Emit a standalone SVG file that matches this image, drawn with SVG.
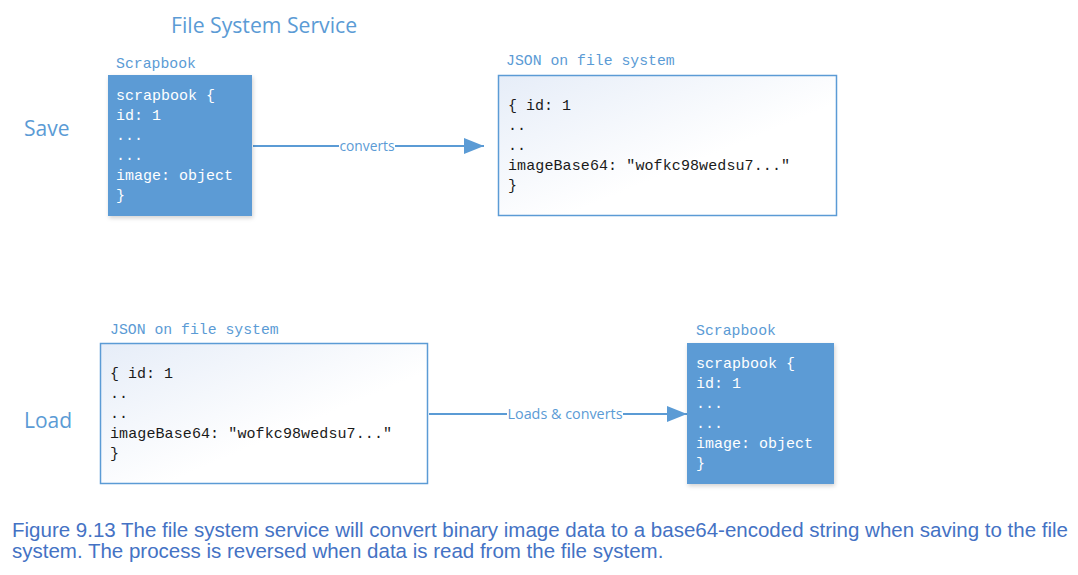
<svg xmlns="http://www.w3.org/2000/svg" width="1078" height="575" viewBox="0 0 1078 575">
<style>
.title{font-family:"Open Sans","Noto Sans",sans-serif;fill:#5b9bd5}
.lbl{font-family:"Liberation Mono","DejaVu Sans Mono",monospace;font-size:14.8px;fill:#5b9bd5}
.code{font-family:"Liberation Mono","DejaVu Sans Mono",monospace;font-size:15px}
.w{fill:#ffffff}
.d{fill:#1a1a1a}
.solid{fill:#5b9bd5}
.light{fill:url(#grad);stroke:#5b9bd5;stroke-width:1.5}
.conn{stroke:#5b9bd5;stroke-width:2;fill:none}
.clbl{font-family:"Open Sans","Noto Sans",sans-serif;font-size:14px;fill:#5b9bd5}
.cap{font-family:"Liberation Sans",Arial,sans-serif;font-size:20.5px;fill:#4472c4}
</style>
<defs>
<linearGradient id="grad" x1="0" y1="0" x2="1" y2="1">
<stop offset="0" stop-color="#e6edf8"/>
<stop offset="0.6" stop-color="#ffffff"/>
<stop offset="1" stop-color="#ffffff"/>
</linearGradient>
<filter id="sh" x="-10%" y="-10%" width="125%" height="125%">
<feDropShadow dx="1" dy="2" stdDeviation="2" flood-color="#000" flood-opacity="0.18"/>
</filter>
<marker id="arr" markerWidth="20" markerHeight="16" refX="20" refY="8" orient="auto" markerUnits="userSpaceOnUse">
<path d="M0,0 L20,8 L0,16 Z" fill="#5b9bd5"/>
</marker>
</defs>
<rect width="1078" height="575" fill="#ffffff"/>

<text class="title" x="171" y="33" font-size="21.2">File System Service</text>
<text class="title" x="24" y="136" font-size="21">Save</text>
<text class="title" x="24" y="428" font-size="21">Load</text>

<g id="connectors">
<line class="conn" x1="253" y1="146" x2="484" y2="146" marker-end="url(#arr)"/>
<rect x="339" y="137" width="56" height="18" fill="#ffffff"/>
<text class="clbl" x="367" y="151" text-anchor="middle" textLength="55" lengthAdjust="spacingAndGlyphs">converts</text>
<line class="conn" x1="429" y1="414" x2="687" y2="414" marker-end="url(#arr)"/>
<rect x="507" y="405" width="116" height="18" fill="#ffffff"/>
<text class="clbl" x="565" y="419" text-anchor="middle" textLength="115" lengthAdjust="spacingAndGlyphs">Loads &amp; converts</text>
</g>

<g id="save-scrapbook">
<text class="lbl" x="116" y="68">Scrapbook</text>
<rect class="solid" x="108" y="75" width="144" height="141" filter="url(#sh)"/>
<text class="code w" x="116" y="100">scrapbook {</text>
<text class="code w" x="116" y="120">id: 1</text>
<text class="code w" x="116" y="140">...</text>
<text class="code w" x="116" y="160">...</text>
<text class="code w" x="116" y="180">image: object</text>
<text class="code w" x="116" y="200">}</text>
</g>

<g id="save-json">
<text class="lbl" x="506" y="65">JSON on file system</text>
<rect class="light" x="498.5" y="75.5" width="338" height="140"/>
<text class="code d" x="508" y="110">{ id: 1</text>
<text class="code d" x="508" y="130">..</text>
<text class="code d" x="508" y="150">..</text>
<text class="code d" x="508" y="170" textLength="282">imageBase64: "wofkc98wedsu7..."</text>
<text class="code d" x="508" y="190">}</text>
</g>

<g id="load-json">
<text class="lbl" x="110" y="334">JSON on file system</text>
<rect class="light" x="100.5" y="343.5" width="327" height="140"/>
<text class="code d" x="110" y="378">{ id: 1</text>
<text class="code d" x="110" y="398">..</text>
<text class="code d" x="110" y="418">..</text>
<text class="code d" x="110" y="438" textLength="282">imageBase64: "wofkc98wedsu7..."</text>
<text class="code d" x="110" y="458">}</text>
</g>

<g id="load-scrapbook">
<text class="lbl" x="696" y="335">Scrapbook</text>
<rect class="solid" x="687" y="343" width="147" height="141" filter="url(#sh)"/>
<text class="code w" x="696" y="368">scrapbook {</text>
<text class="code w" x="696" y="388">id: 1</text>
<text class="code w" x="696" y="408">...</text>
<text class="code w" x="696" y="428">...</text>
<text class="code w" x="696" y="448">image: object</text>
<text class="code w" x="696" y="468">}</text>
</g>

<g id="caption">
<text class="cap" x="12" y="537">Figure 9.13 The file system service will convert binary image data to a base64-encoded string when saving to the file</text>
<text class="cap" x="12" y="558">system. The process is reversed when data is read from the file system.</text>
</g>
</svg>
